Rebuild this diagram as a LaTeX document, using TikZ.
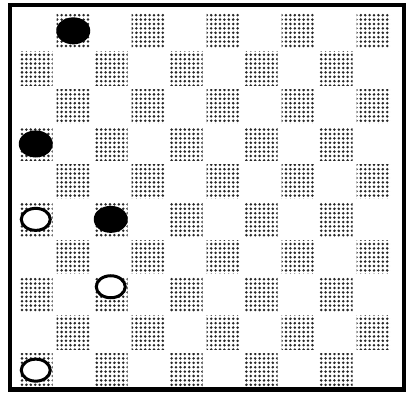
\documentclass[tikz,border=0pt]{standalone}
\usepackage{tikz}
\usetikzlibrary{patterns.meta,shapes.geometric}

\begin{document}
\begin{tikzpicture}[
  x=1pt, y=-1pt,
  darksq/.style={pattern={Dots[distance=4.4pt, radius=1.4pt]}, pattern color=black!85},
  blackman/.style={ellipse, fill=black, minimum width=34pt, minimum height=27pt, inner sep=0pt},
  whiteman/.style={ellipse, draw=black, line width=3pt, fill=white, minimum width=29pt, minimum height=22pt, inner sep=0pt},
  frame/.style={draw=black, line width=4.5pt}
]
  \useasboundingbox (0,0) rectangle (414,398);

  % 10x10 board: squares 37.5 wide, 37.7 high, stippled dark squares
  \foreach \c in {1,...,10} {
    \foreach \r in {1,...,10} {
      \coordinate (sq-\c-\r) at ({17+37.5*(\c-0.5)}, {12+37.7*(\r-0.5)});
      \pgfmathtruncatemacro{\odd}{mod(\c+\r,2)}
      \ifnum\odd=1
        \fill[darksq] ({17+37.5*(\c-1)+2}, {12+37.7*(\r-1)+2}) rectangle ++(33.5,33.7);
      \fi
    }
  }

  % outer frame
  \draw[frame] (10,5) rectangle (404,389.5);

  % black men
  \node[blackman] (bk-a) at (sq-2-1) {};
  \node[blackman] (bk-b) at (sq-1-4) {};
  \node[blackman] (bk-c) at (sq-3-6) {};

  % white men
  \node[whiteman] (wt-a) at (sq-1-6) {};
  \node[whiteman, yshift=8pt] (wt-b) at (sq-3-8) {};
  \node[whiteman] (wt-c) at (sq-1-10) {};

\end{tikzpicture}
\end{document}
